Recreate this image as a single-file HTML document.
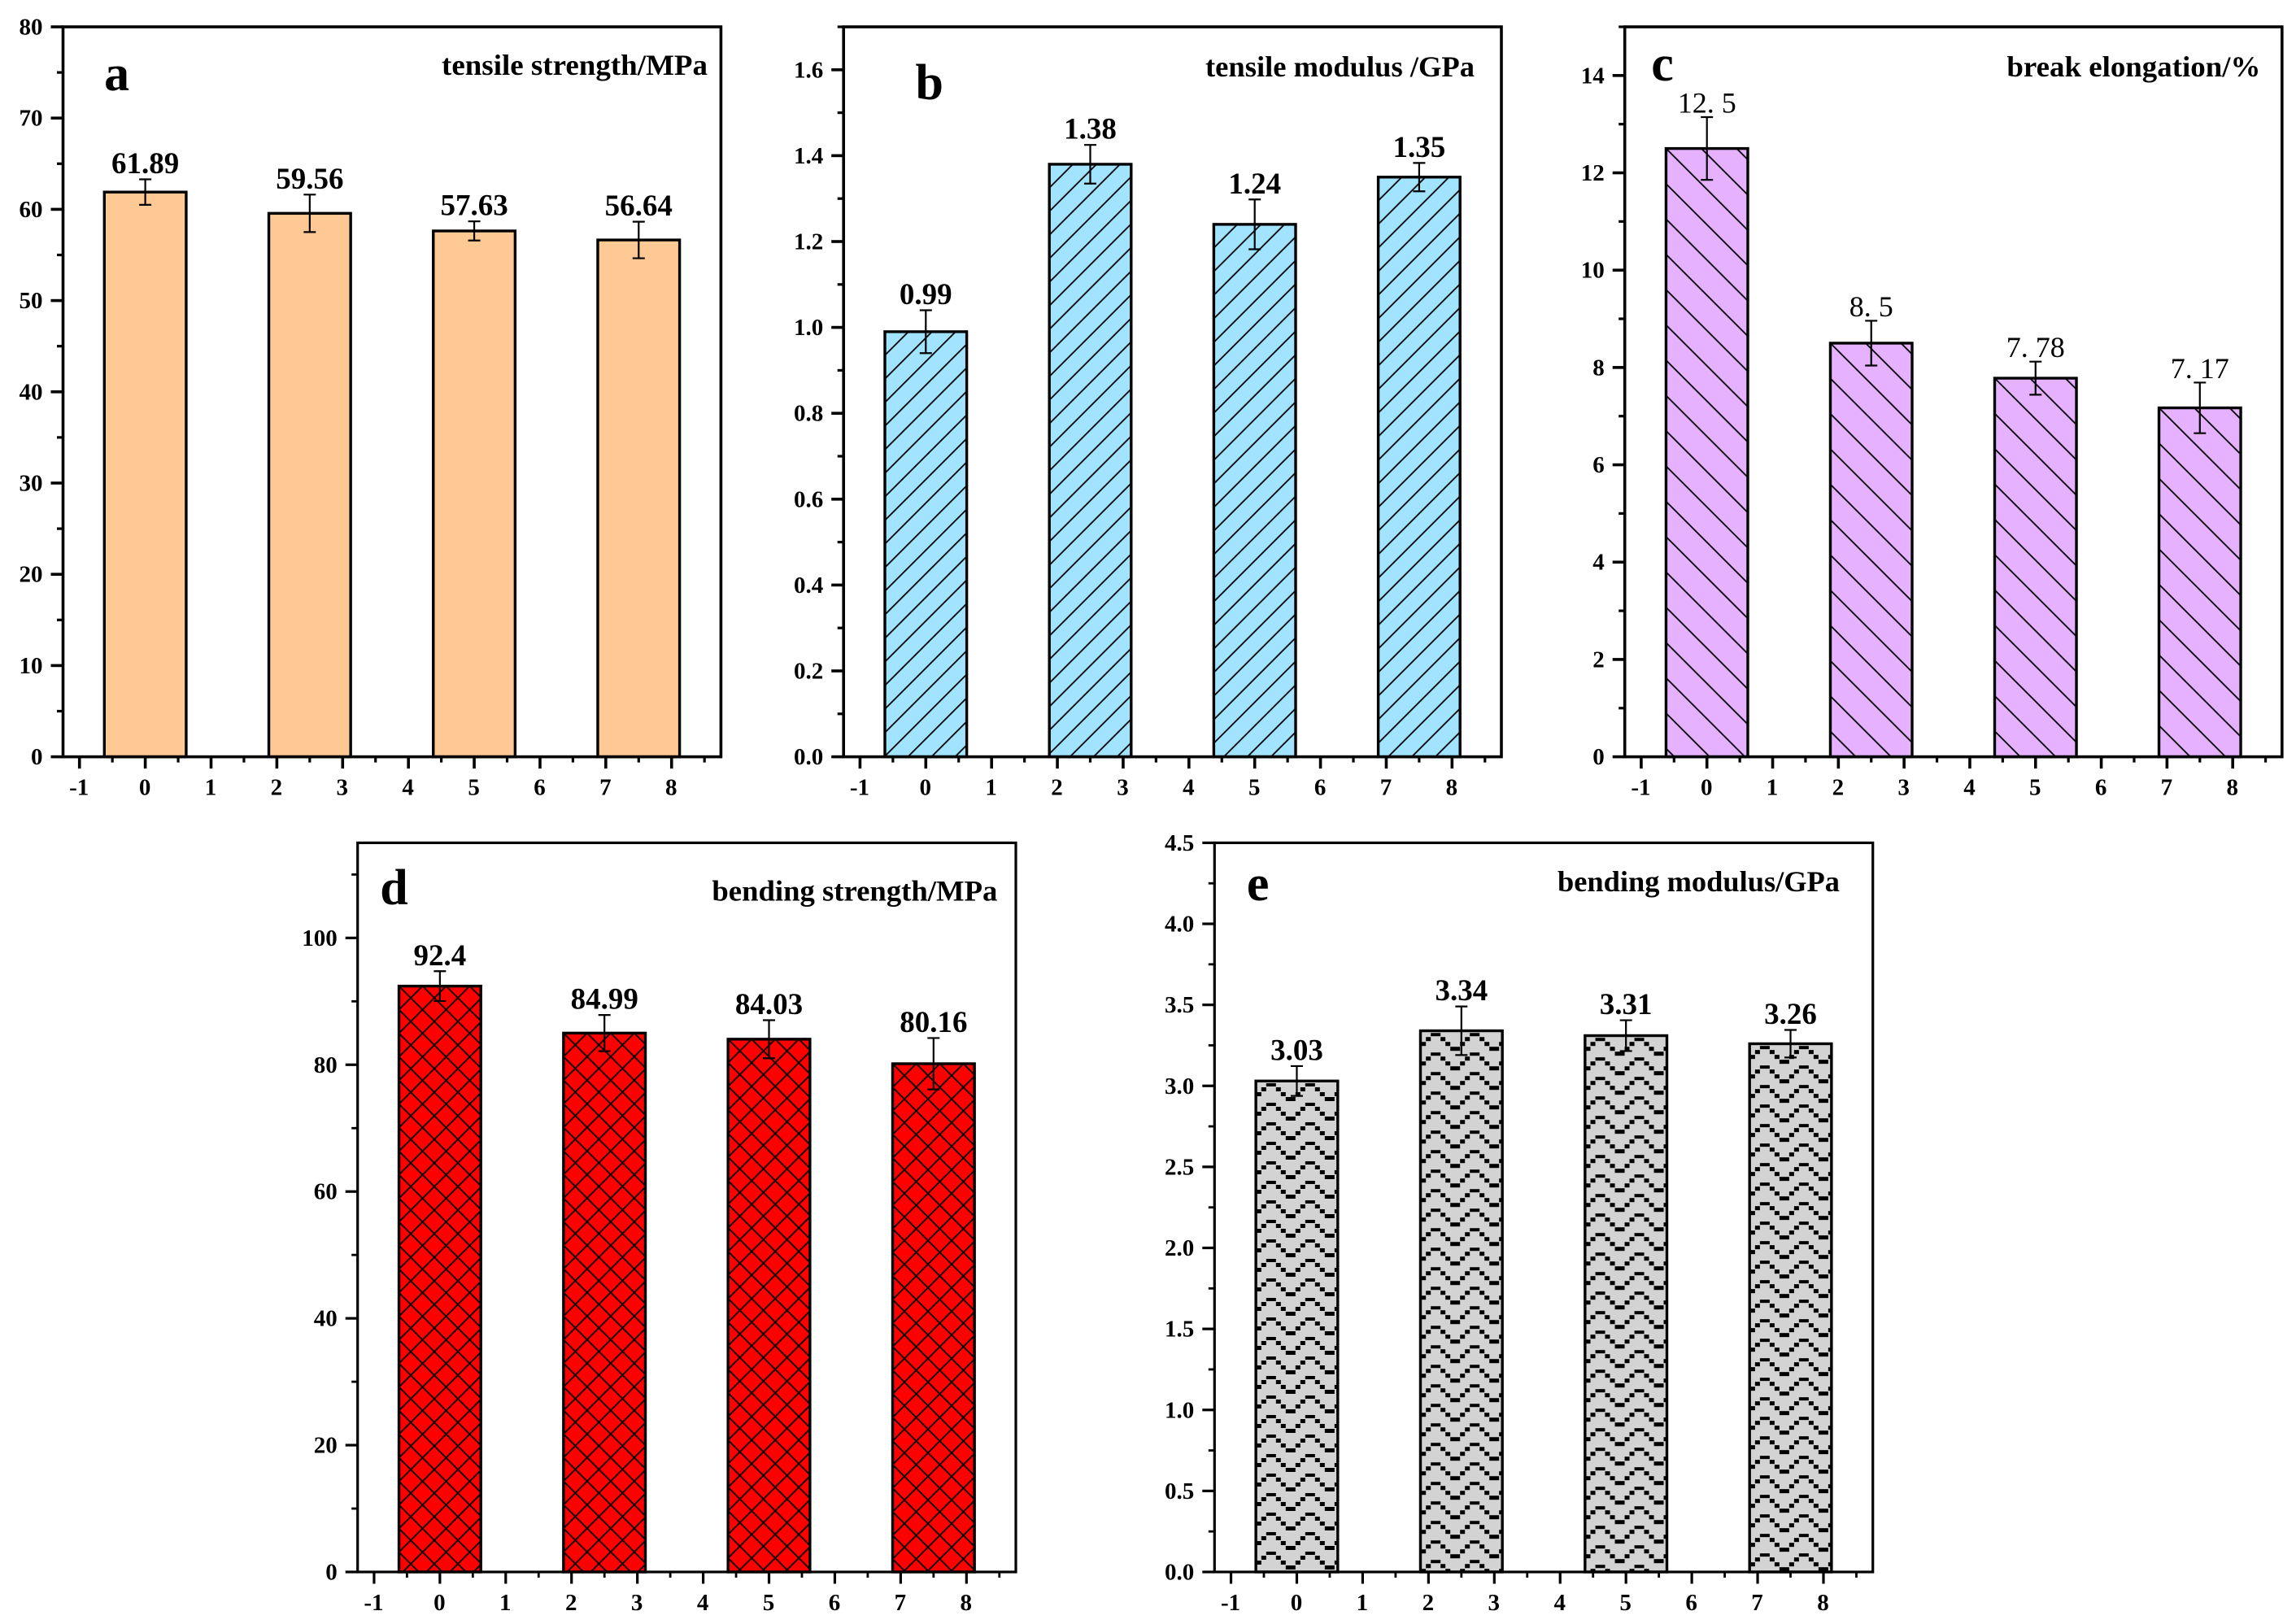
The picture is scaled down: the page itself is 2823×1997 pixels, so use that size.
<!DOCTYPE html>
<html lang="en">
<head>
<meta charset="utf-8">
<title>Mechanical properties bar charts</title>
<style>
html,body{margin:0;padding:0;background:#fff;}
svg{display:block;}
text{font-family:"Liberation Serif","Noto Serif CJK SC",serif;font-weight:bold;fill:#000;}
</style>
</head>
<body>
<svg id="figure" xmlns="http://www.w3.org/2000/svg" width="2823" height="1997" viewBox="0 0 2823 1997">
  <defs id="hatch-defs"></defs>
  <rect x="0" y="0" width="2823" height="1997" fill="#ffffff"/>
  <g id="panel-a"></g>
  <g id="panel-b"></g>
  <g id="panel-c"></g>
  <g id="panel-d"></g>
  <g id="panel-e"></g>
  <text x="143.6" y="111" text-anchor="middle" font-size="62">a</text>
  <text x="1142.7" y="122" text-anchor="middle" font-size="62">b</text>
  <text x="2044" y="99" text-anchor="middle" font-size="62">c</text>
  <text x="484.5" y="1112" text-anchor="middle" font-size="62">d</text>
  <text x="1546.6" y="1107" text-anchor="middle" font-size="62">e</text>
  <text x="543" y="92" font-size="36" textLength="327" lengthAdjust="spacingAndGlyphs">tensile strength/MPa</text>
  <text x="1482" y="94" font-size="36" textLength="331" lengthAdjust="spacingAndGlyphs">tensile modulus /GPa</text>
  <text x="2467.4" y="94" font-size="36" textLength="312" lengthAdjust="spacingAndGlyphs">break elongation/%</text>
  <text x="875.4" y="1107.5" font-size="36" textLength="351" lengthAdjust="spacingAndGlyphs">bending strength/MPa</text>
  <text x="1915" y="1096" font-size="36" textLength="347" lengthAdjust="spacingAndGlyphs">bending modulus/GPa</text>
</svg>
<script>
// ---- chart data ----
const barCategories = [0, 2.5, 5, 7.5];
const xTickLabels = ["-1", "0", "1", "2", "3", "4", "5", "6", "7", "8"];

const tensileStrengthValues = [61.89, 59.56, 57.63, 56.64];
const tensileStrengthErrors = [1.4, 2.05, 1.05, 2.0];
const tensileStrengthTicks = ["0", "10", "20", "30", "40", "50", "60", "70", "80"];

const tensileModulusValues = [0.99, 1.38, 1.24, 1.35];
const tensileModulusErrors = [0.05, 0.045, 0.058, 0.033];
const tensileModulusTicks = ["0.0", "0.2", "0.4", "0.6", "0.8", "1.0", "1.2", "1.4", "1.6"];

const breakElongationValues = [12.5, 8.5, 7.78, 7.17];
const breakElongationErrors = [0.645, 0.46, 0.34, 0.52];
const breakElongationTicks = ["0", "2", "4", "6", "8", "10", "12", "14"];

const bendingStrengthValues = [92.4, 84.99, 84.03, 80.16];
const bendingStrengthErrors = [2.35, 2.85, 3.0, 4.05];
const bendingStrengthTicks = ["0", "20", "40", "60", "80", "100"];

const bendingModulusValues = [3.03, 3.34, 3.31, 3.26];
const bendingModulusErrors = [0.092, 0.15, 0.095, 0.085];
const bendingModulusTicks = ["0.0", "0.5", "1.0", "1.5", "2.0", "2.5", "3.0", "3.5", "4.0", "4.5"];

// ---- drawing ----
const NS = "http://www.w3.org/2000/svg";
const defs = document.getElementById("hatch-defs");
const X_MIN = -1.25, X_MAX = 8.75, BAR_HALF = 0.622;

function make(parent, tag, attrs) {
  const node = document.createElementNS(NS, tag);
  for (const k in attrs) node.setAttribute(k, attrs[k]);
  parent.appendChild(node);
  return node;
}

function addHatch(id, kind, left, top) {
  let p;
  if (kind === "forward" || kind === "cross") {
    p = make(defs, "pattern", {id: id, patternUnits: "userSpaceOnUse", width: 29, height: 29,
      patternTransform: "translate(" + left + " " + top + ")"});
    make(p, "path", {d: "M0 29L29 0M-3 3L3 -3M26 32L32 26", stroke: "#000", "stroke-width": 1.8, fill: "none"});
    if (kind === "cross") {
      make(p, "path", {d: "M0 0L29 29M-3 26L3 32M26 -3L32 3", stroke: "#000", "stroke-width": 1.8, fill: "none"});
    }
  } else if (kind === "back") {
    p = make(defs, "pattern", {id: id, patternUnits: "userSpaceOnUse", width: 43.4, height: 43.4,
      patternTransform: "translate(" + left + " " + top + ")"});
    make(p, "path", {d: "M0 0L43.4 43.4M-3 40.4L3 46.4M40.4 -3L46.4 3", stroke: "#000", "stroke-width": 1.8, fill: "none"});
  } else {
    p = make(defs, "pattern", {id: id, patternUnits: "userSpaceOnUse", width: 48, height: 24,
      patternTransform: "translate(" + (left + 0.7) + " " + (top + 0.7) + ")"});
    make(p, "path", {
      d: "M12 2h12v4h-12zM24 7h6v5h-6zM30 13h6v5h-6zM36 19h12v5h-12zM0 13h6v5h-6zM6 7h6v5h-6z",
      fill: "#000"
    });
  }
}

function drawPanel(cfg) {
  const g = document.getElementById(cfg.id);
  const sx = function (v) { return cfg.left + (v - X_MIN) / (X_MAX - X_MIN) * (cfg.right - cfg.left); };
  const sy = function (v) { return cfg.bottom - v / cfg.yMax * (cfg.bottom - cfg.top); };

  // bars
  cfg.values.forEach(function (v, i) {
    const x0 = sx(barCategories[i] - BAR_HALF), x1 = sx(barCategories[i] + BAR_HALF), yTop = sy(v);
    const hatchId = cfg.id + "-hatch-" + i;
    const bar = make(g, "rect", {x: x0, y: yTop, width: x1 - x0, height: cfg.bottom - yTop, fill: cfg.color});
    
    
    if (cfg.hatch) {
      addHatch(hatchId, cfg.hatch, x0, yTop);
      const hatchRect = make(g, "rect", {x: x0, y: yTop, width: x1 - x0, height: cfg.bottom - yTop, fill: "url(#" + hatchId + ")"});
      
      
    }
    const outline = make(g, "rect", {x: x0, y: yTop, width: x1 - x0, height: cfg.bottom - yTop, fill: "none", stroke: "#000", "stroke-width": 3.4});
    
    
  });

  // frame
  const frame = make(g, "rect", {x: cfg.left, y: cfg.top, width: cfg.right - cfg.left, height: cfg.bottom - cfg.top, fill: "none", stroke: "#000", "stroke-width": cfg.spine});
  
  

  // x ticks
  xTickLabels.forEach(function (label) {
    const v = parseFloat(label), x = sx(v);
    const tick = make(g, "line", {x1: x, x2: x, y1: cfg.bottom, y2: cfg.bottom + 14.5, stroke: "#000", "stroke-width": cfg.spine});
    
    
    const t = make(g, "text", {x: x - 0.5, y: cfg.bottom + 47, "text-anchor": "middle", "font-size": 29});
    t.textContent = label;
    
    
    const mv = v + 0.5;
    if (mv < X_MAX) {
      const minor = make(g, "line", {x1: sx(mv), x2: sx(mv), y1: cfg.bottom, y2: cfg.bottom + 7, stroke: "#000", "stroke-width": cfg.spine - 0.4});
      
      
    }
  });

  // y ticks
  cfg.ticks.forEach(function (label, i) {
    const v = parseFloat(label), y = sy(v);
    const tick = make(g, "line", {x1: cfg.left, x2: cfg.left - 15, y1: y, y2: y, stroke: "#000", "stroke-width": cfg.spine});
    
    
    const t = make(g, "text", {x: cfg.left - 25, y: y + 9.5, "text-anchor": "end", "font-size": 29});
    t.textContent = label;
    
    
    const step = i > 0 ? v - parseFloat(cfg.ticks[i - 1]) : parseFloat(cfg.ticks[1]) - v;
    const mv = v + step / 2;
    if (mv <= cfg.yMax + 1e-9) {
      const minor = make(g, "line", {x1: cfg.left, x2: cfg.left - 7.5, y1: sy(mv), y2: sy(mv), stroke: "#000", "stroke-width": cfg.spine - 0.4});
      
      
    }
  });

  // error bars and value labels
  cfg.values.forEach(function (v, i) {
    const x = sx(barCategories[i]), hi = sy(v + cfg.errors[i]), lo = sy(v - cfg.errors[i]);
    const err = make(g, "path", {
      d: "M" + (x - 7.5) + " " + hi + "H" + (x + 7.5) + "M" + x + " " + hi + "V" + lo + "M" + (x - 7.5) + " " + lo + "H" + (x + 7.5),
      stroke: "#000", "stroke-width": 2.2, fill: "none"
    });
    
    
    const s = String(v);
    let label;
    if (cfg.thinLabels) {
      const start = x - 18 * s.length / 2;
      const xs = s.split("").map(function (_, k) { return start + 18 * k; }).join(" ");
      label = make(g, "text", {x: xs, y: hi - 5.5, "font-size": 36, style: "font-weight:normal"});
    } else {
      label = make(g, "text", {x: x, y: hi - 7.5, "text-anchor": "middle", "font-size": 37});
    }
    label.textContent = s;
    
    
  });
}

drawPanel({id: "panel-a", key: "tensile-strength", left: 77.5, right: 886.4, top: 33, bottom: 930.6, yMax: 80, spine: 3.6,
  color: "#FFC996", hatch: null, values: tensileStrengthValues, errors: tensileStrengthErrors, ticks: tensileStrengthTicks});
drawPanel({id: "panel-b", key: "tensile-modulus", left: 1037.2, right: 1846, top: 33, bottom: 930.6, yMax: 1.7, spine: 3.6,
  color: "#A2E4FF", hatch: "forward", values: tensileModulusValues, errors: tensileModulusErrors, ticks: tensileModulusTicks});
drawPanel({id: "panel-c", key: "break-elongation", left: 1997.7, right: 2805.8, top: 33, bottom: 930.6, yMax: 15, spine: 3.6,
  color: "#E6B2FF", hatch: "back", thinLabels: true, values: breakElongationValues, errors: breakElongationErrors, ticks: breakElongationTicks});
drawPanel({id: "panel-d", key: "bending-strength", left: 439.7, right: 1249, top: 1036.4, bottom: 1933, yMax: 115, spine: 3.2,
  color: "#FF0000", hatch: "cross", values: bendingStrengthValues, errors: bendingStrengthErrors, ticks: bendingStrengthTicks});
drawPanel({id: "panel-e", key: "bending-modulus", left: 1493.3, right: 2302.7, top: 1036.4, bottom: 1933, yMax: 4.5, spine: 3.2,
  color: "#D3D3D3", hatch: "wave", values: bendingModulusValues, errors: bendingModulusErrors, ticks: bendingModulusTicks});
</script>
</body>
</html>
